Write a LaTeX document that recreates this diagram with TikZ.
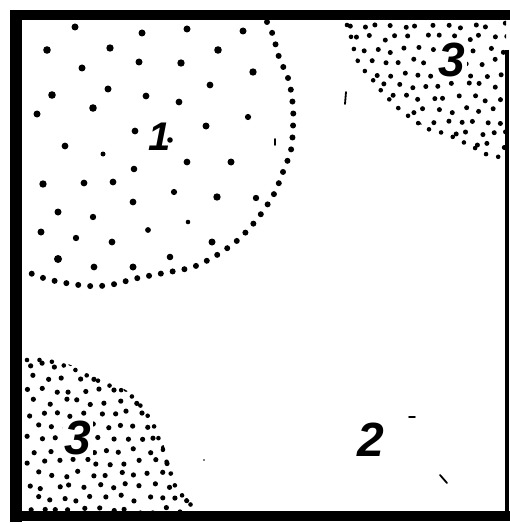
\documentclass[tikz,border=0pt]{standalone}
\usepackage{fontspec}
\newfontfamily\labfont{Liberation Sans}
\begin{document}
\begin{tikzpicture}[x=1pt,y=-1pt,
  bigdot/.style={fill=black},
  edgedots/.style={line width=6pt,line cap=round,dash pattern=on 0pt off 12pt},
  finedots/.style={line width=4.6pt,line cap=round,dash pattern=on 0pt off 12.5pt},
  boldlab/.style={font=\labfont\bfseries\itshape\fontsize{48}{48}\selectfont,inner sep=2pt,fill=white},
  thinlab/.style={font=\labfont\bfseries\itshape\fontsize{40}{40}\selectfont,inner sep=0pt},
  stray/.style={line width=1.8pt,line cap=round}]
\useasboundingbox (0,0) rectangle (510,524);
\fill[white] (0,0) rectangle (510,524);

% ---- region 3, top right ----
\begin{scope}
\clip plot[smooth] coordinates {(344,19) (349,33) (352,45) (356,57) (362,68) (370,77) (378,87) (387,97) (397,107) (407,115) (418,123) (430,129) (443,134) (454,138) (466,144) (478,150) (489,155) (506,161)} -- (506,19) -- cycle;
\pgfmathsetseed{11}
\foreach \i in {0,...,12}{
  \foreach \j in {0,...,12}{
    \pgfmathsetmacro\xx{348+\i*14+mod(\j,2)*7+rand*3.5}
    \pgfmathsetmacro\yy{26+\j*12+rand*3}
    \fill (\xx,\yy) circle[radius=2.5pt];
  }
}
\end{scope}
\draw[finedots] plot[smooth] coordinates {(347,25) (350,33) (353,45) (356,57) (362,68) (370,76) (378,87) (387,97) (397,107) (407,115) (418,123) (428,129) (443,133) (453,137) (465,143) (477,149) (488,155) (500,157)};
\node[boldlab] (lthree) at (452,60) {3};

% ---- region 3, bottom left ----
\begin{scope}
\clip (22,357) -- plot[smooth] coordinates {(27,357) (40,357) (53,359) (68,364) (80,369) (94,376) (110,383) (124,389) (137,398) (147,410) (155,422) (160,436) (165,449) (169,462) (174,476) (180,489) (189,500) (197,511)} -- (22,511) -- cycle;
\pgfmathsetseed{5}
\foreach \i in {0,...,13}{
  \foreach \j in {0,...,12}{
    \pgfmathsetmacro\xx{29+\i*14+mod(\j,2)*7+rand*3.5}
    \pgfmathsetmacro\yy{366+\j*12+rand*3}
    \fill (\xx,\yy) circle[radius=2.6pt];
  }
}
\end{scope}
\draw[finedots] plot[smooth] coordinates {(27,360) (40,360) (53,362) (68,367) (80,372) (92,378) (108,385) (123,391) (135,399) (145,412) (153,424) (158,437) (163,450) (167,463) (172,477) (177,490) (187,500) (193,508)};
\node[boldlab] (lthreeb) at (78,438) {3};

% ---- region 1 ----
\draw[edgedots] plot[smooth] coordinates {(267,22) (273,35) (279,57) (289,81) (293,107) (293,127) (291,150) (283,172) (274,194) (258,218) (239,239) (217,255) (193,267) (164,273) (138,278) (110,285) (88,286) (60,282) (40,277) (28,272)};
\foreach \px/\py/\r in {75/27/3.5,142/33/3.5,187/29/3.5,243/31/3.5,
  47/50/3.8,110/48/3.7,218/50/3.8,
  82/68/3.5,139/62/3.5,181/63/3.7,253/72/3.7,
  210/85/3.4,
  52/95/3.8,108/89/3.5,146/96/3.4,179/102/3.4,
  37/114/3.5,93/108/3.8,
  248/117/3.1,
  135/131/3.4,206/126/3.5,
  65/146/3.4,170/140/2.8,
  103/154/2.5,
  187/162/3.4,231/162/3.5,134/169/3.3,
  43/184/3.7,84/183/3.4,113/182/3.4,
  174/192/3.1,217/197/3.7,256/198/3.2,
  133/202/3.4,
  58/212/3.5,93/217/3.2,
  188/222/2.3,
  41/232/3.5,76/238/3.2,112/242/3.4,148/230/2.9,
  212/242/3.5,
  58/259/4.0,94/267/3.4,133/267/3.5,170/257/3.3}{
  \fill[bigdot] (\px,\py) circle[radius=\r pt];
}
\node[thinlab] (lone) at (160,137) {1};

% ---- region 2 ----
\node[boldlab,fill=none] (ltwo) at (371,440) {2};

% ---- stray marks ----
\coordinate (sa1) at (409,417); \coordinate (sa2) at (415,417);
\coordinate (sb1) at (440,475); \coordinate (sb2) at (447,483);
\coordinate (sc1) at (346,92); \coordinate (sc2) at (345,104);
\coordinate (sd1) at (275,139); \coordinate (sd2) at (275,145);
\draw[stray] (sa1) -- (sa2);
\draw[stray] (sb1) -- (sb2);
\draw[stray] (sc1) -- (sc2);
\draw[stray] (sd1) -- (sd2);
\fill (204,460) circle[radius=0.9pt];

% ---- frame ----
\fill (10,10) rectangle (510,20);
\fill (10,10) rectangle (22,522);
\fill (10,511) rectangle (510,521);
\fill (505,50) rectangle (509,521);
\end{tikzpicture}
\end{document}
